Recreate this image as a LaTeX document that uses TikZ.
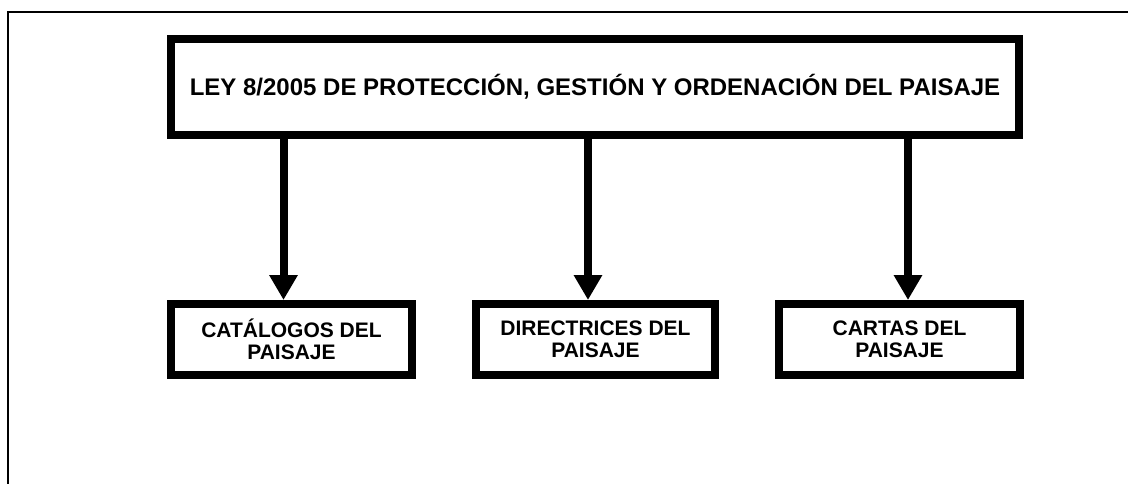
\documentclass[tikz,border=0pt]{standalone}
\usepackage{fontspec}
\setmainfont{Liberation Sans}
\usetikzlibrary{arrows.meta}
\begin{document}
\begin{tikzpicture}[x=1pt,y=-1pt,
  boxstyle/.style={draw=black,line width=8pt,fill=white,align=center,inner sep=0pt,
    font=\bfseries\fontsize{21}{22.5}\selectfont},
  arrowstyle/.style={line width=8pt,-{Triangle[width=27pt,length=25pt]}}]
\useasboundingbox (0,0) rectangle (1128,484);
\draw[line width=2pt] (8,500) |- (1140,12);
\node[boxstyle,minimum width=848pt,minimum height=96pt,font=\bfseries\fontsize{24}{28}\selectfont] (ley) at (595,87) {LEY 8/2005 DE PROTECCIÓN, GESTIÓN Y ORDENACIÓN DEL PAISAJE};
\node[boxstyle,minimum width=241pt,minimum height=71pt] (cat) at (291.5,339.5) {CATÁLOGOS DEL\\PAISAJE};
\node[boxstyle,minimum width=239pt,minimum height=71pt] (dir) at (595.5,339.5) {DIRECTRICES DEL\\PAISAJE};
\node[boxstyle,minimum width=241pt,minimum height=71pt] (car) at (899.5,339.5) {CARTAS DEL\\PAISAJE};
\coordinate (a1) at (283.5,0);
\coordinate (a2) at (588,0);
\coordinate (a3) at (908,0);
\draw[arrowstyle] (ley.south -| a1) -- (cat.north -| a1);
\draw[arrowstyle] (ley.south -| a2) -- (dir.north -| a2);
\draw[arrowstyle] (ley.south -| a3) -- (car.north -| a3);
\end{tikzpicture}
\end{document}
